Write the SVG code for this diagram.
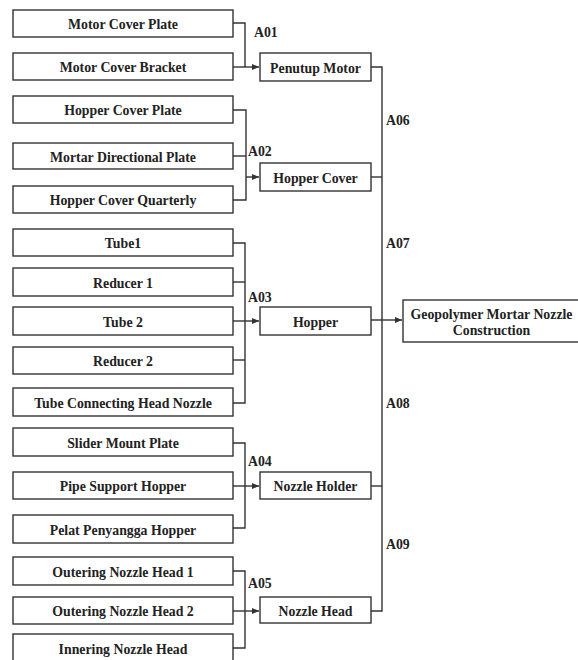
<svg xmlns="http://www.w3.org/2000/svg" width="578" height="660" viewBox="0 0 578 660">
<style>
.box{fill:#fff;stroke:#333;stroke-width:1.4}
.t{font-family:"Liberation Serif","Times New Roman",serif;font-weight:bold;font-size:13.8px;fill:#222;text-anchor:middle;dominant-baseline:central;transform:translateY(1px)}
.lb{font-family:"Liberation Serif","Times New Roman",serif;font-weight:bold;font-size:13.8px;fill:#222;dominant-baseline:central}
.c{fill:none;stroke:#333;stroke-width:1.4}
</style>
<defs>
<marker id="ah" markerWidth="8" markerHeight="8" refX="7" refY="4" orient="auto" markerUnits="userSpaceOnUse">
<path d="M0,1 L7,4 L0,7 Z" fill="#333"/>
</marker>
</defs>
<rect width="578" height="660" fill="#fff"/>
<g id="connectors">
<path class="c" d="M233,23 H245 V67"/>
<path class="c" d="M233,67 H259" marker-end="url(#ah)"/>
<path class="c" d="M233,110 H246 V200 H233"/>
<path class="c" d="M233,156 H246"/>
<path class="c" d="M246,177 H259" marker-end="url(#ah)"/>
<path class="c" d="M233,243 H245 V403 H233"/>
<path class="c" d="M233,282 H245"/>
<path class="c" d="M233,360 H245"/>
<path class="c" d="M233,321 H259" marker-end="url(#ah)"/>
<path class="c" d="M233,443 H245 V528 H233"/>
<path class="c" d="M233,486 H259" marker-end="url(#ah)"/>
<path class="c" d="M233,571 H245 V648 H233"/>
<path class="c" d="M233,611 H259" marker-end="url(#ah)"/>
<path class="c" d="M371,67 H382 V611 H371"/>
<path class="c" d="M371,177 H382"/>
<path class="c" d="M371,486 H382"/>
<path class="c" d="M371,320 H402" marker-end="url(#ah)"/>
<text class="lb" x="254" y="32">A01</text>
<text class="lb" x="248" y="151">A02</text>
<text class="lb" x="248" y="297">A03</text>
<text class="lb" x="248" y="461">A04</text>
<text class="lb" x="248" y="583">A05</text>
<text class="lb" x="386" y="120">A06</text>
<text class="lb" x="386" y="243">A07</text>
<text class="lb" x="386" y="403">A08</text>
<text class="lb" x="386" y="544">A09</text>
</g>
<g id="n1"><rect class="box" x="13" y="10" width="220" height="27"/><text class="t" x="123" y="23.5">Motor Cover Plate</text></g>
<g id="n2"><rect class="box" x="13" y="53" width="220" height="27"/><text class="t" x="123" y="66.5">Motor Cover Bracket</text></g>
<g id="n3"><rect class="box" x="13" y="96" width="220" height="27"/><text class="t" x="123" y="109.5">Hopper Cover Plate</text></g>
<g id="n4"><rect class="box" x="13" y="143" width="220" height="26"/><text class="t" x="123" y="156">Mortar Directional Plate</text></g>
<g id="n5"><rect class="box" x="13" y="186" width="220" height="27"/><text class="t" x="123" y="199.5">Hopper Cover Quarterly</text></g>
<g id="n6"><rect class="box" x="13" y="229" width="220" height="27"/><text class="t" x="123" y="242.5">Tube1</text></g>
<g id="n7"><rect class="box" x="13" y="268" width="220" height="28"/><text class="t" x="123" y="282">Reducer 1</text></g>
<g id="n8"><rect class="box" x="13" y="307" width="220" height="28"/><text class="t" x="123" y="321">Tube 2</text></g>
<g id="n9"><rect class="box" x="13" y="347" width="220" height="27"/><text class="t" x="123" y="360.5">Reducer 2</text></g>
<g id="n10"><rect class="box" x="13" y="388" width="220" height="28"/><text class="t" x="123" y="402">Tube Connecting Head Nozzle</text></g>
<g id="n11"><rect class="box" x="13" y="428" width="220" height="28"/><text class="t" x="123" y="442">Slider Mount Plate</text></g>
<g id="n12"><rect class="box" x="13" y="472" width="220" height="27"/><text class="t" x="123" y="485.5">Pipe Support Hopper</text></g>
<g id="n13"><rect class="box" x="13" y="515" width="220" height="28"/><text class="t" x="123" y="529">Pelat Penyangga Hopper</text></g>
<g id="n14"><rect class="box" x="13" y="557" width="220" height="28"/><text class="t" x="123" y="571">Outering Nozzle Head 1</text></g>
<g id="n15"><rect class="box" x="13" y="597" width="220" height="27"/><text class="t" x="123" y="610.5">Outering Nozzle Head 2</text></g>
<g id="n16"><rect class="box" x="13" y="634" width="220" height="28"/><text class="t" x="123" y="648">Innering Nozzle Head</text></g>
<g id="p1"><rect class="box" x="260" y="53" width="111" height="28"/><text class="t" x="315.5" y="67">Penutup Motor</text></g>
<g id="p2"><rect class="box" x="260" y="163" width="111" height="28"/><text class="t" x="315.5" y="177">Hopper Cover</text></g>
<g id="p3"><rect class="box" x="260" y="307" width="111" height="28"/><text class="t" x="315.5" y="321">Hopper</text></g>
<g id="p4"><rect class="box" x="260" y="472" width="111" height="27"/><text class="t" x="315.5" y="485.5">Nozzle Holder</text></g>
<g id="p5"><rect class="box" x="260" y="597" width="111" height="26"/><text class="t" x="315.5" y="610">Nozzle Head</text></g>
<g id="final"><rect class="box" x="403" y="300" width="176" height="42"/><text class="t" x="491.5" y="313">Geopolymer Mortar Nozzle</text><text class="t" x="491.5" y="329">Construction</text></g>
</svg>
